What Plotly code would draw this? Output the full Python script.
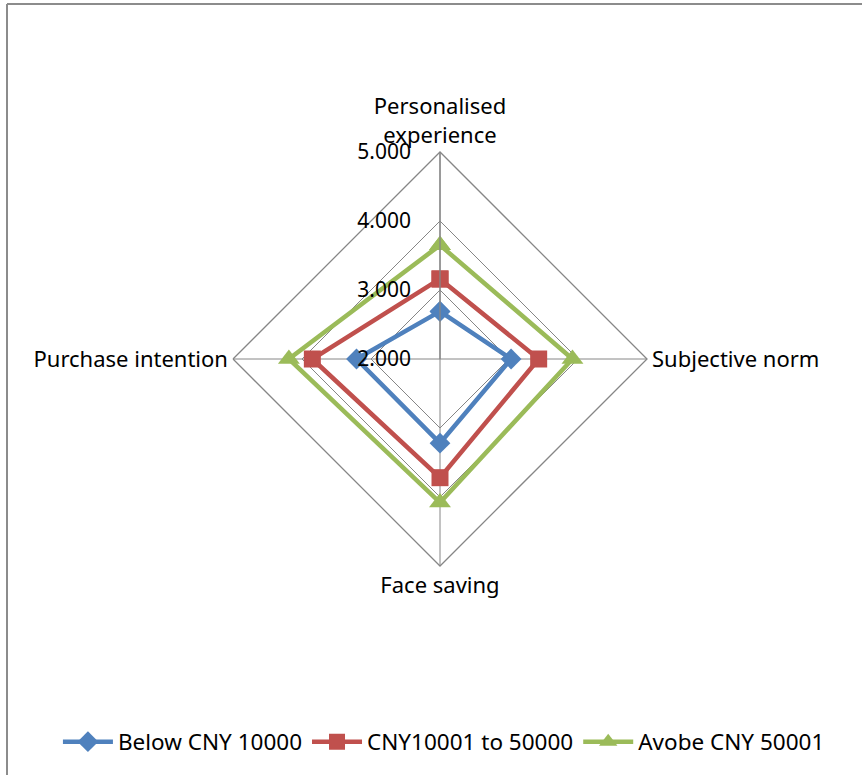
import plotly.graph_objects as go

# Dimensions, clockwise from the top
categories = ["Personalised<br>experience", "Subjective norm", "Face saving", "Purchase intention"]

# Mean scores per income group
below_10000 = [2.69, 3.03, 3.22, 3.21]
cny_10001_50000 = [3.16, 3.43, 3.72, 3.85]
above_50001 = [3.65, 3.92, 4.08, 4.19]

series_names = ["Below CNY 10000", "CNY10001 to 50000", "Avobe CNY 50001"]
radial_ticks = [2, 3, 4, 5]

FONT = "Noto Sans, Open Sans, sans-serif"
GRID = "#868686"

styles = [
    dict(color="#4F81BD", symbol="diamond", size=16),
    dict(color="#C0504D", symbol="square", size=17),
    dict(color="#9BBB59", symbol="triangle-up", size=19),
]

fig = go.Figure()
for name, vals, st in zip(series_names, [below_10000, cny_10001_50000, above_50001], styles):
    fig.add_trace(go.Scatterpolar(
        r=vals + vals[:1],
        theta=categories + categories[:1],
        name=name,
        mode="lines+markers",
        line=dict(color=st["color"], width=4.5),
        marker=dict(color=st["color"], symbol=st["symbol"], size=st["size"]),
    ))

W, H = 862, 775
cx, cy, rad = 440, 359, 207

fig.update_layout(
    width=W, height=H,
    margin=dict(l=0, r=0, t=0, b=0),
    paper_bgcolor="white",
    font=dict(family=FONT, size=22, color="black"),
    polar=dict(
        domain=dict(
            x=[(cx - rad) / W, (cx + rad) / W],
            y=[(H - cy - rad) / H, (H - cy + rad) / H],
        ),
        bgcolor="white",
        gridshape="linear",
        radialaxis=dict(
            range=[2, 5],
            tickvals=radial_ticks,
            tickformat=".3f",
            angle=90,
            tickangle=90,
            side="counterclockwise",
            showline=True,
            linecolor=GRID,
            linewidth=1.3,
            gridcolor=GRID,
            gridwidth=1.3,
            ticks="outside",
            ticklen=21,
            tickcolor="rgba(0,0,0,0)",
            tickfont=dict(family=FONT, size=21, color="black"),
        ),
        angularaxis=dict(
            direction="clockwise",
            rotation=90,
            showline=True,
            linecolor=GRID,
            linewidth=1.3,
            gridcolor=GRID,
            gridwidth=1.3,
            ticks="",
            tickfont=dict(family=FONT, size=22, color="black"),
        ),
    ),
    legend=dict(
        orientation="h",
        x=0.515, xanchor="center",
        y=(H - 742) / H, yanchor="middle",
        font=dict(family=FONT, size=22.5, color="black"),
        itemwidth=50,
        tracegroupgap=0,
    ),
    shapes=[
        dict(type="line", xref="paper", yref="paper",
             x0=7 / W, x1=1.01, y0=(H - 4) / H, y1=(H - 4) / H,
             line=dict(color="#8C8C8C", width=2)),
        dict(type="line", xref="paper", yref="paper",
             x0=7 / W, x1=7 / W, y0=(H - 4) / H, y1=-0.01,
             line=dict(color="#8C8C8C", width=2)),
    ],
)

fig.write_html("out.html")
